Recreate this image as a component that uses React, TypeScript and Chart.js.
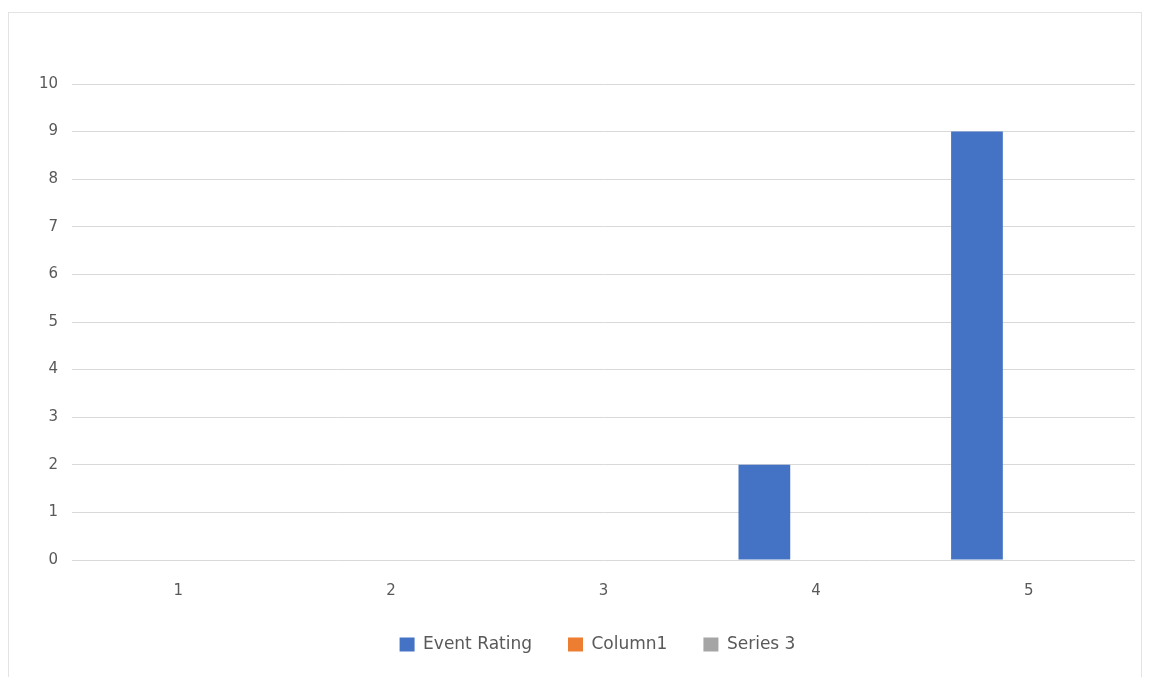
import React, { useEffect, useRef } from "react";
import { Chart, registerables } from "chart.js";

Chart.register(...registerables);

const categories = ["1", "2", "3", "4", "5"];
const eventRating = [0, 0, 0, 2, 9];
const column1 = [0, 0, 0, 0, 0];
const series3 = [0, 0, 0, 0, 0];
const seriesNames = ["Event Rating", "Column1", "Series 3"];
const seriesColors = ["#4472C4", "#ED7D31", "#A5A5A5"];

const legendShift = {
  id: "legendShift",
  afterLayout(chart: any) {
    const lg = chart.legend;
    if (lg) {
      lg.left += 30;
      lg.right += 30;
    }
  },
};

export default function App() {
  const ref = useRef<HTMLCanvasElement | null>(null);

  useEffect(() => {
    if (!ref.current) return;
    const font = { family: "'DejaVu Sans', sans-serif", size: 15 };
    const legendFont = { family: "'DejaVu Sans', sans-serif", size: 17 };
    const chart = new Chart(ref.current, {
      type: "bar",
      data: {
        labels: categories,
        datasets: [eventRating, column1, series3].map((d, i) => ({
          label: seriesNames[i],
          data: d,
          backgroundColor: seriesColors[i],
          borderWidth: 0,
          categoryPercentage: 0.73,
          barPercentage: 1.0,
        })),
      },
      options: {
        animation: false,
        responsive: false,
        maintainAspectRatio: false,
        layout: { padding: { left: 0, right: 15, top: 84, bottom: 14 } },
        plugins: {
          tooltip: { enabled: false },
          legend: {
            position: "bottom",
            labels: {
              color: "#595959",
              font: legendFont,
              boxWidth: 15,
              boxHeight: 14,
              padding: 36,
            },
          },
        },
        scales: {
          x: {
            grid: { display: false, drawTicks: false },
            border: { display: false },
            ticks: { color: "#595959", font, padding: 22 },
            afterFit: (s: any) => {
              s.height = 40;
            },
          },
          y: {
            min: 0,
            max: 10,
            grid: { color: "#D9D9D9", drawTicks: false, lineWidth: 1 },
            border: { display: false },
            ticks: { color: "#595959", font, stepSize: 1, padding: 14 },
            afterFit: (s: any) => {
              s.width = 72;
            },
          },
        },
      },
      plugins: [legendShift],
    });
    return () => chart.destroy();
  }, []);

  return (
    <div style={{ position: "fixed", left: 0, top: 0, width: 1150, height: 677, background: "#fff" }}>
      <div
        style={{
          position: "absolute",
          left: 8,
          top: 12,
          width: 1134,
          height: 680,
          border: "1px solid #E3E3E3",
          boxSizing: "border-box",
        }}
      />
      <canvas ref={ref} width={1150} height={677} style={{ position: "absolute", left: 0, top: 0 }} />
    </div>
  );
}
